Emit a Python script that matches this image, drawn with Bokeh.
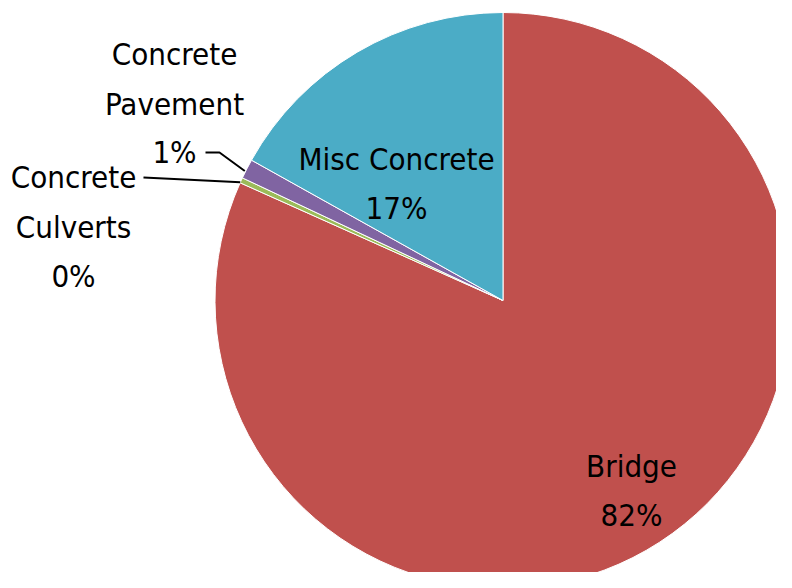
import math
from bokeh.plotting import figure
from bokeh.models import Range1d, ColumnDataSource
from bokeh.core.properties import value
from bokeh.embed import file_html
from bokeh.resources import INLINE

# ---- data ----
categories = ["Bridge", "Concrete Culverts", "Concrete Pavement", "Misc Concrete"]
shares = [81.7, 0.3, 1.1, 16.9]
colors = ["#C0504D", "#9BBB59", "#8064A2", "#4BACC6"]
label_lines = [["Bridge"], ["Concrete", "Culverts"], ["Concrete", "Pavement"], ["Misc Concrete"]]

# ---- layout (image pixel coords; data y = 588 - image y) ----
W, H = 776, 572
CX, CY, R = 502.5, 288.0, 288.0
FONT = "'DejaVu Sans Condensed', 'Roboto Condensed', 'Liberation Sans Narrow', sans-serif"
FS = "31px"

p = figure(width=W, height=H, output_backend="svg", toolbar_location=None,
           x_range=Range1d(0, W), y_range=Range1d(588 - H, 588),
           min_border=0, outline_line_color=None)
p.axis.visible = False
p.grid.visible = False
p.background_fill_color = "white"
p.border_fill_color = "white"

total = sum(shares)
starts, ends, mids = [], [], []
acc = 0.0
for s in shares:
    a0 = math.pi / 2 - 2 * math.pi * acc / total
    acc += s
    a1 = math.pi / 2 - 2 * math.pi * acc / total
    starts.append(a0)
    ends.append(a1)
    mids.append((a0 + a1) / 2)

src = ColumnDataSource(dict(start=starts, end=ends, color=colors, cat=categories))
p.wedge(x=CX, y=CY, radius=R, start_angle="start", end_angle="end",
        direction="clock", fill_color="color", line_color="white", line_width=1, source=src)

pct = [f"{round(s / total * 100)}%" for s in shares]

# label baselines (image y) and centers
label_pos = {
    0: (631, [465, 514]),
    1: (73, [176, 226, 275]),
    2: (174, [53, 103, 151]),
    3: (396, [158, 207]),
}
for i, (cx, ys) in label_pos.items():
    lines = label_lines[i] + [pct[i]]
    p.text(x=[cx] * len(lines), y=[588 - y for y in ys], text=lines,
           text_align="center", text_baseline="alphabetic",
           text_font=value(FONT), text_font_size=FS, text_color="black")

# leader lines
def edge(i):
    a = mids[i]
    return CX + R * math.cos(a), CY + R * math.sin(a)

ex, ey = edge(2)
p.line(x=[205, 219, ex - 2], y=[588 - 152, 588 - 152, ey - 2], line_color="black", line_width=2)
ex, ey = edge(1)
p.line(x=[143, ex - 1], y=[588 - 177, ey - 2], line_color="black", line_width=2)

open("out.html", "w").write(file_html(p, INLINE))
